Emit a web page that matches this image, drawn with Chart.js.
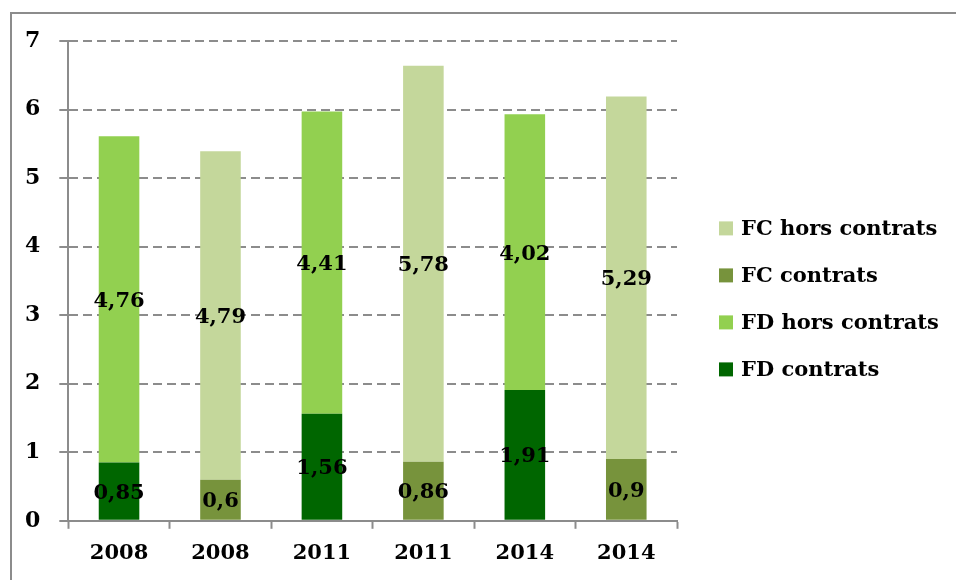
<!DOCTYPE html>
<html>
<head>
<meta charset="utf-8">
<script src="https://cdn.jsdelivr.net/npm/chart.js@4"></script>
<style>
    html, body { margin: 0; padding: 0; background: #fff; }
    #wrap { width: 956px; height: 580px; position: relative; }
</style>
</head>
<body>
<div id="wrap"><canvas id="fundingChart"></canvas></div>
<script>
    // Data
    const years = ['2008', '2008', '2011', '2011', '2014', '2014'];
    const fdContrats = [0.85, null, 1.56, null, 1.91, null];
    const fdHorsContrats = [4.76, null, 4.41, null, 4.02, null];
    const fcContrats = [null, 0.6, null, 0.86, null, 0.9];
    const fcHorsContrats = [null, 4.79, null, 5.78, null, 5.29];
    const yTicks = [0, 1, 2, 3, 4, 5, 6, 7];

    const fontFamily = "'DejaVu Serif', 'Liberation Serif', serif";
    const gridColor = '#8c8c8c';

    Chart.defaults.font.family = fontFamily;
    Chart.defaults.color = '#000';

    // outer frame (only top + left edges show in the original)
    const framePlugin = {
        id: 'frame',
        beforeDraw(chart) {
            const ctx = chart.ctx;
            ctx.save();
            ctx.fillStyle = '#8c8c8c';
            ctx.fillRect(10, 12, 2, chart.height - 12);
            ctx.fillRect(10, 12, chart.width - 10, 2);
            ctx.restore();
        }
    };

    // value labels centred in each segment
    const valueLabels = {
        id: 'valueLabels',
        afterDatasetsDraw(chart) {
            const ctx = chart.ctx;
            ctx.save();
            ctx.font = 'bold 21px ' + fontFamily;
            ctx.fillStyle = '#000';
            ctx.textAlign = 'center';
            ctx.textBaseline = 'middle';
            chart.data.datasets.forEach((ds, i) => {
                const meta = chart.getDatasetMeta(i);
                meta.data.forEach((bar, idx) => {
                    const v = ds.data[idx];
                    if (v === null || v === undefined) return;
                    ctx.fillText(String(v).replace('.', ','), bar.x, (bar.y + bar.base) / 2 + 2);
                });
            });
            ctx.restore();
        }
    };

    // the built-in legend is capped at a quarter of the width, so draw it here
    const sideLegend = {
        id: 'sideLegend',
        afterDraw(chart) {
            const ctx = chart.ctx;
            const area = chart.chartArea;
            const items = chart.data.datasets.slice().reverse();
            const rowGap = 47;
            let y = (area.top + area.bottom) / 2 + 18 - rowGap * (items.length - 1) / 2;
            const boxX = area.right + 42;
            ctx.save();
            ctx.font = 'bold 21px ' + fontFamily;
            ctx.textAlign = 'left';
            ctx.textBaseline = 'middle';
            items.forEach(ds => {
                ctx.fillStyle = ds.backgroundColor;
                ctx.fillRect(boxX, y - 7, 14, 14);
                ctx.fillStyle = '#000';
                ctx.fillText(ds.label, boxX + 22, y + 1);
                y += rowGap;
            });
            ctx.restore();
        }
    };

    const config = {
        type: 'bar',
        data: {
            labels: years,
            datasets: [
                { label: 'FD contrats', data: fdContrats, backgroundColor: '#006600' },
                { label: 'FD hors contrats', data: fdHorsContrats, backgroundColor: '#92d050' },
                { label: 'FC contrats', data: fcContrats, backgroundColor: '#77933c' },
                { label: 'FC hors contrats', data: fcHorsContrats, backgroundColor: '#c4d79b' }
            ]
        },
        options: {
            responsive: true,
            maintainAspectRatio: false,
            animation: false,
            datasets: {
                bar: { barPercentage: 1, categoryPercentage: 0.4 }
            },
            layout: {
                padding: { left: 6, top: 41, right: 279, bottom: 2 }
            },
            scales: {
                x: {
                    stacked: true,
                    grid: {
                        drawOnChartArea: false,
                        drawTicks: true,
                        tickLength: 8,
                        tickColor: gridColor,
                        tickWidth: 2,
                        offset: true
                    },
                    border: { color: gridColor, width: 2 },
                    ticks: {
                        padding: 12,
                        font: { size: 21, weight: 'bold' }
                    }
                },
                y: {
                    stacked: true,
                    min: 0,
                    max: 7,
                    afterBuildTicks(axis) {
                        axis.ticks = yTicks.map(v => ({ value: v }));
                    },
                    grid: {
                        color: gridColor,
                        lineWidth: 2,
                        tickLength: 9,
                        tickColor: gridColor,
                        tickWidth: 2,
                        tickBorderDash: [9, 5]
                    },
                    border: { color: gridColor, width: 2, dash: [9, 5], display: true },
                    ticks: {
                        padding: 19,
                        font: { size: 22, weight: 'bold' }
                    }
                }
            },
            plugins: {
                legend: { display: false },
                tooltip: { enabled: false }
            }
        },
        plugins: [framePlugin, valueLabels, sideLegend]
    };

    new Chart(document.getElementById('fundingChart'), config);
</script>
</body>
</html>
